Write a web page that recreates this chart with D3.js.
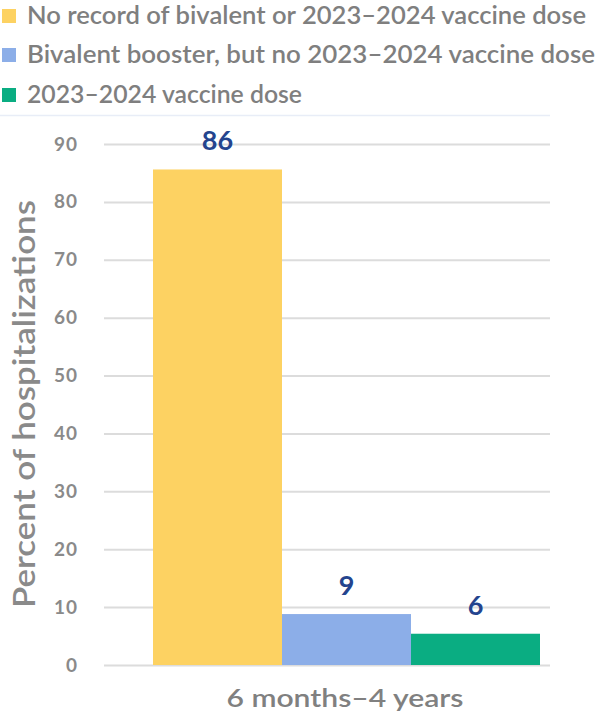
<!DOCTYPE html>
<html><head><meta charset="utf-8">
<script src="https://cdn.jsdelivr.net/npm/d3@7"></script>
<style>body{margin:0;background:#fff;}svg{display:block;font-family:Lato,"Open Sans",sans-serif;}</style>
</head><body>
<script>
const categories = ["6 months–4 years"];
const series = ["No record of bivalent or 2023–2024 vaccine dose","Bivalent booster, but no 2023–2024 vaccine dose","2023–2024 vaccine dose"];
const values = [85.6, 8.8, 5.4];
const valueLabels = ["86", "9", "6"];
const yTicks = [0,10,20,30,40,50,60,70,80,90];
const colors = ["#fdd262","#8caee8","#0aad82"];

const W=599,H=725;
const svg=d3.select("body").append("svg").attr("width",W).attr("height",H);
const y=d3.scaleLinear().domain([0,90]).range([665,144]);
const x1=d3.scaleBand().domain(series).range([153,540]);

// legend
const lg=svg.append("g");
const rowY=[16,55,95];
const rowLen=[559,568,275];
series.forEach((s,i)=>{
  const yy=rowY[i];
  lg.append("rect").attr("x",2).attr("y",yy-7).attr("width",14).attr("height",14).attr("fill",colors[i]);
  lg.append("text").attr("x",27).attr("y",yy+8).attr("font-size",24).attr("font-weight",600).attr("fill","#7f7f7f")
    .attr("textLength",rowLen[i]).attr("lengthAdjust","spacingAndGlyphs").text(s);
});
svg.append("line").attr("x1",0).attr("x2",550).attr("y1",115.5).attr("y2",115.5).attr("stroke","#e8edf7").attr("stroke-width",1.5);

// grid
const ax=svg.append("g").attr("transform","translate(104,0)").call(d3.axisLeft(y).tickValues(yTicks).tickSize(-446).tickPadding(26));
ax.select(".domain").remove();
ax.selectAll(".tick line").attr("stroke","#dcdcdc").attr("stroke-width",2);
ax.selectAll(".tick text").attr("font-size",19).attr("font-weight",700).attr("fill","#8a8a8a").attr("font-family","Lato,sans-serif").attr("letter-spacing",1);

// bars
svg.append("g").selectAll("rect").data(values).join("rect")
  .attr("x",(d,i)=>x1(series[i])).attr("width",x1.bandwidth())
  .attr("y",d=>y(d)).attr("height",d=>y(0)-y(d)).attr("fill",(d,i)=>colors[i]);
svg.append("g").selectAll("text").data(values).join("text")
  .attr("x",(d,i)=>x1(series[i])+x1.bandwidth()/2).attr("y",d=>y(d)-19)
  .attr("text-anchor","middle").attr("font-size",27).attr("font-weight",700).attr("fill","#24448e")
  .text((d,i)=>valueLabels[i]);

// x label
svg.append("text").attr("x",345).attr("y",707).attr("text-anchor","middle").attr("font-size",25).attr("font-weight",600).attr("fill","#808080")
  .attr("textLength",237).attr("lengthAdjust","spacingAndGlyphs").text(categories[0]);
// y title
svg.append("text").attr("transform","translate(35,404) rotate(-90)").attr("text-anchor","middle").attr("font-size",30).attr("font-weight",600).attr("fill","#8a8a8a")
  .attr("textLength",408).attr("lengthAdjust","spacingAndGlyphs").text("Percent of hospitalizations");
</script>
</body></html>
